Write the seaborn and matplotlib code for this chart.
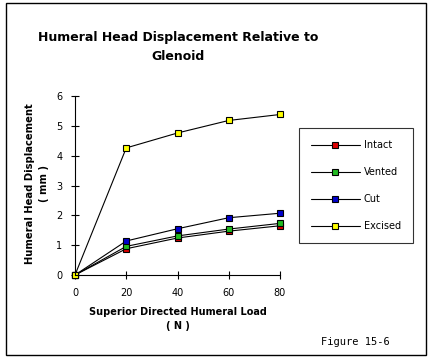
import pandas as pd
import seaborn as sns
import matplotlib.pyplot as plt
from matplotlib.patches import Rectangle

load = [0, 20, 40, 60, 80]
intact = [0, 0.88, 1.24, 1.47, 1.65]
vented = [0, 0.96, 1.31, 1.54, 1.73]
cut = [0, 1.14, 1.55, 1.92, 2.07]
excised = [0, 4.26, 4.76, 5.18, 5.38]
series = ['Intact', 'Vented', 'Cut', 'Excised']
colors = ['#dd0000', '#22bb22', '#0000cc', '#ffff00']

df = pd.DataFrame({'load': load * 4,
                   'disp': intact + vented + cut + excised,
                   'series': [s for s in series for _ in load]})

sns.set_style('white')
plt.rcParams['font.family'] = ['DejaVu Sans']
plt.rcParams['text.color'] = 'black'
plt.rcParams['xtick.color'] = 'black'
plt.rcParams['ytick.color'] = 'black'

fig = plt.figure(figsize=(4.3, 3.59), dpi=100)
W, H = 430, 359
ax = fig.add_axes([75 / W, 1 - 275 / H, 205 / W, 179 / H])

sns.lineplot(data=df, x='load', y='disp', hue='series', palette=colors,
             marker='s', markersize=5, markeredgecolor='black', markeredgewidth=0.8,
             linewidth=0.8, ax=ax, legend=False)
for line, c in zip(ax.lines, colors):
    line.set_color('black')
    line.set_markerfacecolor(c)
    line.set_clip_on(False)

ax.set_xlim(0, 80)
ax.set_ylim(0, 6)
ax.set_xticks(load)
ax.set_yticks(range(7))
ax.tick_params(bottom=True, left=True, direction='inout', length=6, width=0.8,
               labelsize=7, pad=6, colors='black')
for s in ['top', 'right']:
    ax.spines[s].set_visible(False)
for s in ['left', 'bottom']:
    ax.spines[s].set_linewidth(0.8)
    ax.spines[s].set_color('black')
ax.set_xlabel('')
ax.set_ylabel('')

fig.text(178 / W, 1 - 47 / H, 'Humeral Head Displacement Relative to\nGlenoid',
         ha='center', va='center', fontsize=9, fontweight='bold', linespacing=1.5)
fig.text(37 / W, 1 - 184 / H, 'Humeral Head Displacement\n( mm )', rotation=90,
         ha='center', va='center', fontsize=7.2, fontweight='bold', linespacing=1.4)
fig.text(178 / W, 1 - 319 / H, 'Superior Directed Humeral Load\n( N )',
         ha='center', va='center', fontsize=7, fontweight='bold', linespacing=1.5)
fig.text(355 / W, 1 - 342 / H, 'Figure 15-6', ha='center', va='center', fontsize=7.5,
         family='DejaVu Sans Mono')

# legend box
handles = [plt.Line2D([], [], color='black', linewidth=0.8, marker='s', markersize=5,
                      markerfacecolor=c, markeredgecolor='black', markeredgewidth=0.8)
           for c in colors]
leg = fig.legend(handles, series, loc='upper left',
                 bbox_to_anchor=(299 / W, 1 - 128 / H), fontsize=7,
                 frameon=True, fancybox=False, borderpad=1.25, labelspacing=1.75,
                 handlelength=5.0, handletextpad=0.4, borderaxespad=0)
leg.get_frame().set_edgecolor('black')
leg.get_frame().set_linewidth(0.8)

fig.patches.append(Rectangle((6 / W, 1 - 355 / H), 420 / W, 352 / H,
                             transform=fig.transFigure, fill=False,
                             edgecolor='black', linewidth=1))

fig.savefig('out.png', dpi=100)
